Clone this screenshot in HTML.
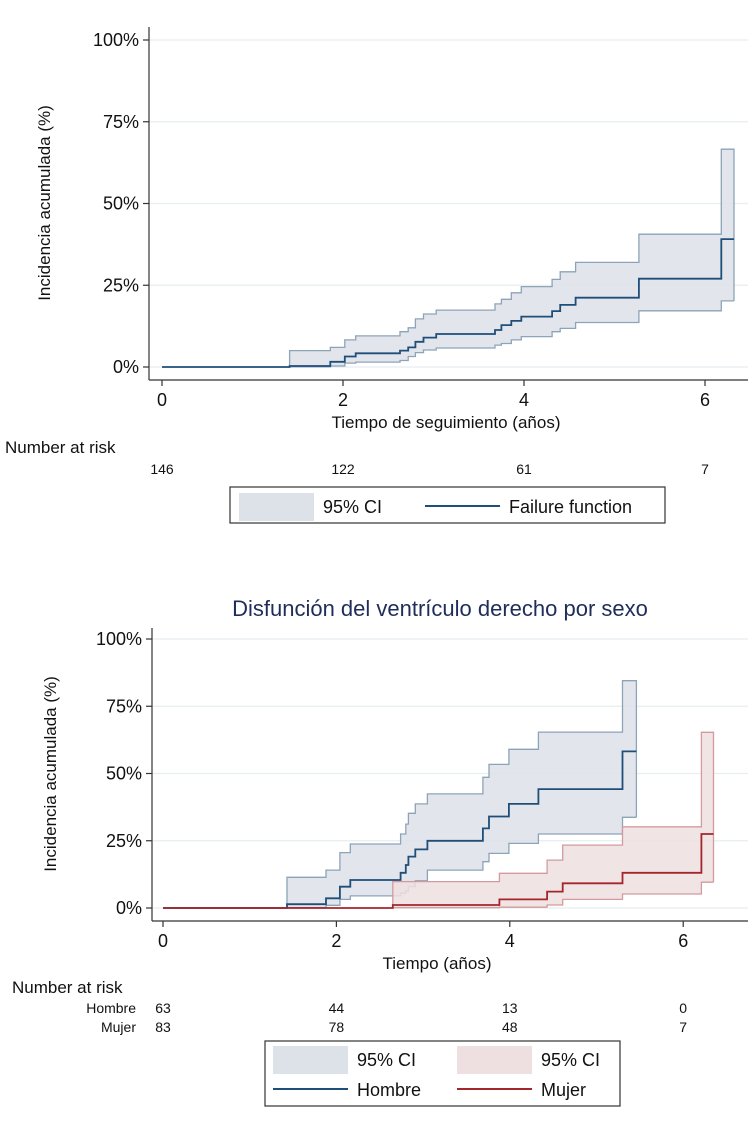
<!DOCTYPE html>
<html><head><meta charset="utf-8"><style>
html,body{margin:0;padding:0;background:#fff;}
svg{display:block;font-family:"Liberation Sans",Arial,sans-serif;}
</style></head><body>
<svg id="root" width="750" height="1123" viewBox="0 0 750 1123" xmlns="http://www.w3.org/2000/svg">
<g id="top"></g>
<g id="bot"></g>
</svg>
<script>
// Top chart data
const topTimes = [0, 1.41, 1.86, 2.02, 2.14, 2.63, 2.72, 2.80, 2.89, 3.03, 3.68, 3.75, 3.86, 3.97, 4.31, 4.40, 4.57, 5.27, 6.18];
const topEnd = 6.32;
const topFail = [0, 0.3, 1.6, 3.2, 4.2, 5.0, 6.0, 7.7, 9.0, 10.1, 11.3, 12.8, 14.1, 15.4, 17.1, 19.0, 21.2, 27.0, 39.1];
const topUpper = [0, 5.0, 6.0, 8.3, 9.5, 10.8, 12.0, 14.7, 16.2, 17.4, 19.3, 20.7, 22.7, 24.6, 26.8, 29.1, 32.0, 40.6, 66.6];
const topLower = [0, 0.05, 0.3, 1.2, 1.5, 2.0, 3.2, 4.4, 5.2, 5.8, 6.7, 7.2, 8.3, 9.3, 10.8, 11.8, 13.6, 17.2, 20.2];
const topRisk = [146, 122, 61, 7];

// Bottom chart data
const hTimes = [0, 1.43, 1.88, 2.04, 2.16, 2.74, 2.80, 2.83, 2.91, 3.05, 3.69, 3.76, 3.99, 4.33, 5.30];
const hEnd = 5.46;
const hFail = [0, 1.4, 3.6, 7.9, 10.4, 13.1, 16.0, 19.1, 21.8, 25.0, 29.6, 34.0, 38.7, 44.2, 58.2];
const hUpper = [0, 11.4, 14.1, 20.6, 23.8, 27.5, 31.2, 35.2, 38.7, 42.4, 48.6, 53.4, 59.0, 65.4, 84.5];
const hLower = [0, 0.1, 1.0, 3.2, 4.5, 5.5, 6.3, 8.0, 10.1, 14.1, 17.2, 20.3, 24.0, 27.5, 33.7];
const mTimes = [0, 2.65, 3.88, 4.43, 4.61, 5.30, 6.21];
const mEnd = 6.35;
const mFail = [0, 1.1, 3.2, 6.1, 9.2, 13.1, 27.5];
const mUpper = [0, 9.8, 12.9, 17.8, 23.4, 30.2, 65.3];
const mLower = [0, 0.1, 0.3, 1.1, 3.2, 5.2, 9.6];
const hRisk = [63, 44, 13, 0];
const mRisk = [83, 78, 48, 7];
const xTicks = [0, 2, 4, 6];
const yTicks = [0, 25, 50, 75, 100];

const NS = "http://www.w3.org/2000/svg";
function el(parent, tag, attrs, text) {
  const e = document.createElementNS(NS, tag);
  for (const k in attrs) e.setAttribute(k, attrs[k]);
  if (text !== undefined) e.textContent = text;
  parent.appendChild(e);
  return e;
}
function stepPts(times, vals, end, sx, sy, ci) {
  const p = [];
  const start = ci ? 1 : 0;
  for (let i = start; i < times.length; i++) {
    const tNext = i + 1 < times.length ? times[i + 1] : end;
    p.push([sx(times[i]), sy(vals[i])]);
    p.push([sx(tNext), sy(vals[i])]);
  }
  return p;
}
function ptsStr(p) { return p.map(q => q[0].toFixed(1) + "," + q[1].toFixed(1)).join(" "); }

function drawPanel(g, cfg) {
  const sx = t => cfg.x0 + t * cfg.xs;
  const sy = v => cfg.y0 - v * cfg.ys;
  yTicks.forEach(v => {
    const l = el(g, "line", {x1: cfg.axL, x2: cfg.axR, y1: sy(v), y2: sy(v), stroke: "#e6eef0", "stroke-width": 1.2});
    
    
  });
  cfg.series.forEach(s => {
    const up = stepPts(s.times, s.upper, s.end, sx, sy, true);
    const lo = stepPts(s.times, s.lower, s.end, sx, sy, true);
    const poly = up.concat(lo.slice().reverse());
    const band = el(g, "polygon", {points: ptsStr(poly), fill: s.fill, "fill-opacity": 0.85});
    
    
    const ul = el(g, "polyline", {points: ptsStr([[up[0][0], lo[0][1]]].concat(up).concat([[up[up.length-1][0], lo[lo.length-1][1]]])), fill: "none", stroke: s.ciStroke, "stroke-width": 1.3});
    
    
    const ll = el(g, "polyline", {points: ptsStr(lo), fill: "none", stroke: s.ciStroke, "stroke-width": 1.3});
    
    
  });
  cfg.series.forEach(s => {
    const m = stepPts(s.times, s.fail, s.end, sx, sy, false);
    const ml = el(g, "polyline", {points: ptsStr(m), fill: "none", stroke: s.line, "stroke-width": 1.8});
    
    
  });
  const ya = el(g, "line", {x1: cfg.axL, x2: cfg.axL, y1: cfg.axT, y2: cfg.axB, stroke: "#333", "stroke-width": 1.2});
  
  
  const xa = el(g, "line", {x1: cfg.axL, x2: cfg.axR, y1: cfg.axB, y2: cfg.axB, stroke: "#333", "stroke-width": 1.2});
  
  
  yTicks.forEach(v => {
    el(g, "line", {x1: cfg.axL - 6, x2: cfg.axL, y1: sy(v), y2: sy(v), stroke: "#333", "stroke-width": 1.2});
    const t = el(g, "text", {x: cfg.axL - 10, y: sy(v) + 6, "text-anchor": "end", "font-size": 18, fill: "#111"}, v + "%");
    
    
  });
  xTicks.forEach(v => {
    el(g, "line", {x1: sx(v), x2: sx(v), y1: cfg.axB, y2: cfg.axB + 6, stroke: "#333", "stroke-width": 1.2});
    const t = el(g, "text", {x: sx(v), y: cfg.axB + 26, "text-anchor": "middle", "font-size": 18, fill: "#111"}, String(v));
    
    
  });
  const xt = el(g, "text", {x: cfg.xTitleX, y: cfg.axB + 48, "text-anchor": "middle", "font-size": 17, fill: "#111"}, cfg.xTitle);
  
  
  const ytl = el(g, "text", {x: 0, y: 0, "text-anchor": "middle", "font-size": 17, fill: "#111", transform: "translate(" + cfg.yTitleX + "," + cfg.yTitleY + ") rotate(-90)"}, "Incidencia acumulada (%)");
  
  
  const rt = el(g, "text", {x: cfg.riskX, y: cfg.axB + cfg.riskTitleDy, "font-size": 17, fill: "#111"}, "Number at risk");
  
  
  cfg.riskRows.forEach((r, ri) => {
    const yy = cfg.axB + cfg.riskRowDy + ri * 19;
    if (r.label) {
      const lb = el(g, "text", {x: cfg.riskLabelX, y: yy, "text-anchor": "end", "font-size": 14, fill: "#111"}, r.label);
      
      
    }
    r.vals.forEach((v, i) => {
      const tt = el(g, "text", {x: sx(xTicks[i]), y: yy, "text-anchor": "middle", "font-size": 14, fill: "#111"}, String(v));
      
      
    });
  });
}

drawPanel(document.getElementById("top"), {
  x0: 162, xs: 90.5, y0: 367, ys: 3.27,
  axL: 149, axR: 748, axT: 27, axB: 380,
  xTitle: "Tiempo de seguimiento (años)", xTitleX: 446,
  yTitleX: 50, yTitleY: 203, riskX: 5, riskLabelX: 140,
  riskTitleDy: 73, riskRowDy: 94,
  series: [{name: "failure", times: topTimes, fail: topFail, upper: topUpper, lower: topLower, end: topEnd,
            fill: "#dde2e9", ciStroke: "#8da3b8", line: "#1f4e79"}],
  riskRows: [{label: "", vals: topRisk}]
});
drawPanel(document.getElementById("bot"), {
  x0: 163, xs: 86.7, y0: 908, ys: 2.69,
  axL: 152, axR: 748, axT: 628, axB: 921,
  xTitle: "Tiempo (años)", xTitleX: 437,
  yTitleX: 56, yTitleY: 774, riskX: 12, riskLabelX: 136,
  riskTitleDy: 72, riskRowDy: 92,
  series: [
    {name: "hombre", times: hTimes, fail: hFail, upper: hUpper, lower: hLower, end: hEnd,
     fill: "#dde2e9", ciStroke: "#8da3b8", line: "#1f4e79"},
    {name: "mujer", times: mTimes, fail: mFail, upper: mUpper, lower: mLower, end: mEnd,
     fill: "#eedfe0", ciStroke: "#d49a9e", line: "#a3262d"}
  ],
  riskRows: [{label: "Hombre", vals: hRisk}, {label: "Mujer", vals: mRisk}]
});

const svg = document.getElementById("root");
const title = el(svg, "text", {x: 440, y: 616, "text-anchor": "middle", "font-size": 22, fill: "#1f2d5a"}, "Disfunción del ventrículo derecho por sexo");



function legend(x, y, w, h, items) {
  const g = el(svg, "g", {});
  
  
  el(g, "rect", {x: x, y: y, width: w, height: h, fill: "#fff", stroke: "#333", "stroke-width": 1.2});
  items.forEach(it => {
    const e = el(g, "g", {});
    
    
    if (it.type === "box") el(e, "rect", {x: it.x, y: it.y - 13, width: 75, height: 28, fill: it.color});
    else el(e, "line", {x1: it.x, x2: it.x + 75, y1: it.y, y2: it.y, stroke: it.color, "stroke-width": 2});
    el(e, "text", {x: it.x + 84, y: it.y + 7, "font-size": 18, fill: "#111"}, it.label);
  });
}
legend(230, 487, 435, 36, [
  {type: "box", x: 239, y: 506, color: "#dde2e9", label: "95% CI"},
  {type: "line", x: 425, y: 506, color: "#1f4e79", label: "Failure function"}
]);
legend(265, 1041, 355, 65, [
  {type: "box", x: 273, y: 1059, color: "#dde2e9", label: "95% CI"},
  {type: "box", x: 457, y: 1059, color: "#eedfe0", label: "95% CI"},
  {type: "line", x: 273, y: 1089, color: "#1f4e79", label: "Hombre"},
  {type: "line", x: 457, y: 1089, color: "#a3262d", label: "Mujer"}
]);
</script>
</body></html>
